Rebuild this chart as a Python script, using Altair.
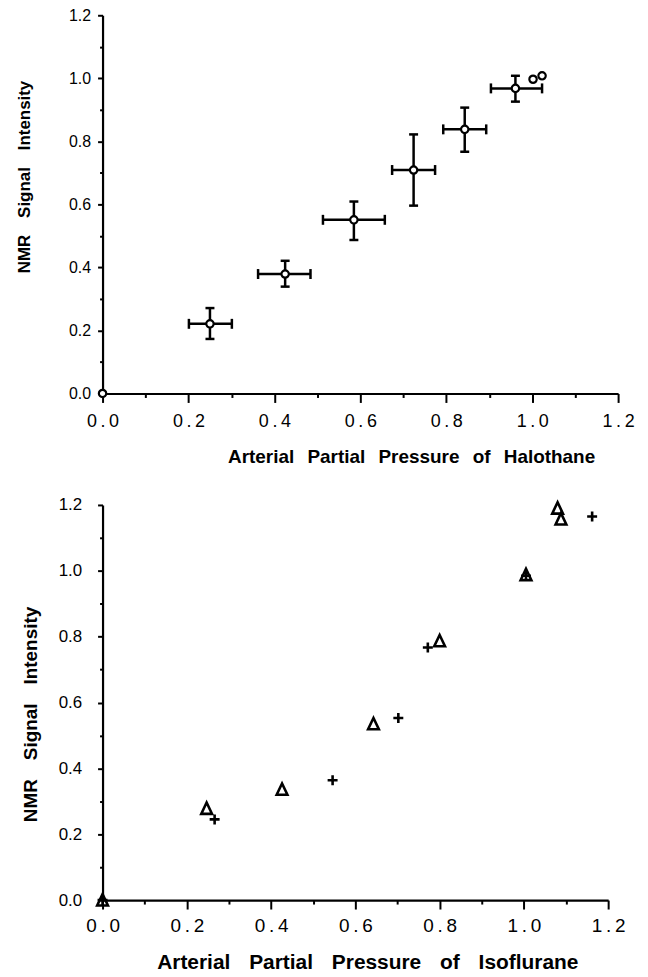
import altair as alt
import pandas as pd

# ---------------- data ----------------
# Halothane: open circles
hal_x = [0.0, 0.250, 0.425, 0.585, 0.724, 0.843, 0.961, 1.002, 1.023]
hal_y = [0.0, 0.221, 0.379, 0.551, 0.709, 0.838, 0.968, 0.997, 1.008]

# Halothane error bars (points that carry them)
err_x = [0.250, 0.425, 0.585, 0.724, 0.843, 0.961]
err_y = [0.221, 0.379, 0.551, 0.709, 0.838, 0.968]
err_xlo = [0.201, 0.362, 0.513, 0.674, 0.793, 0.904]
err_xhi = [0.301, 0.484, 0.657, 0.774, 0.893, 1.023]
err_ylo = [0.173, 0.339, 0.487, 0.596, 0.767, 0.926]
err_yhi = [0.271, 0.421, 0.609, 0.822, 0.907, 1.008]

# Isoflurane: triangles
tri_x = [0.0, 0.247, 0.426, 0.643, 0.800, 1.005, 1.080, 1.088]
tri_y = [0.0, 0.278, 0.336, 0.535, 0.787, 0.988, 1.190, 1.157]

# Isoflurane: plus signs
plus_x = [0.0, 0.266, 0.546, 0.702, 0.772, 1.005, 1.162]
plus_y = [0.0, 0.245, 0.364, 0.553, 0.767, 0.985, 1.165]

tick_values = [0.0, 0.1, 0.2, 0.3, 0.4, 0.5, 0.6, 0.7, 0.8, 0.9, 1.0, 1.1, 1.2]

G1 = "\u2002\u2009"
G2 = "\u2002\u2009\u2009"
TOP_X_TITLE = G1.join(["Arterial", "Partial", "Pressure", "of", "Halothane"])
BOT_X_TITLE = G2.join(["Arterial", "Partial", "Pressure", "of", "Isoflurane"])
Y_TITLE = "\u2003".join(["NMR", "Signal", "Intensity"])

FONT = "Liberation Sans"
MAJOR = "round(datum.value * 10) % 2 == 0"
XLABEL = MAJOR + " ? replace(format(datum.value, '.1f'), '.', '\u2009.\u2009') : ''"
YLABEL = MAJOR + " ? format(datum.value, '.1f') : ''"

hal_df = pd.DataFrame({"x": hal_x, "y": hal_y})
err_df = pd.DataFrame({"x": err_x, "y": err_y, "xlo": err_xlo, "xhi": err_xhi,
                       "ylo": err_ylo, "yhi": err_yhi})
tri_df = pd.DataFrame({"x": tri_x, "y": tri_y})
plus_df = pd.DataFrame({"x": plus_x, "y": plus_y})

dom = [0, 1.2]


def x_axis(title, title_x, title_size, label_size, title_y, pad):
    return alt.Axis(values=tick_values, labelExpr=XLABEL, title=title,
                    titleX=title_x, titleY=title_y,
                    titleAlign="center", titleBaseline="middle",
                    titleFontSize=title_size, labelFontSize=label_size,
                    tickSize={"condition": {"test": MAJOR, "value": 9}, "value": 4},
                    labelPadding=pad, labelFlush=False, labelOverlap=False)


def y_axis(title, title_x, title_y, title_size, label_size, pad):
    return alt.Axis(values=tick_values, labelExpr=YLABEL, title=title,
                    titleX=title_x, titleY=title_y, titleAngle=-90,
                    titleAlign="center", titleBaseline="middle",
                    titleFontSize=title_size, labelFontSize=label_size,
                    tickSize={"condition": {"test": MAJOR, "value": 5}, "value": 3},
                    labelPadding=pad, labelFlush=False, labelOverlap=False)


# ---------------- top panel: halothane ----------------
xs_top = alt.Scale(domain=dom, nice=False, zero=False)
ys_top = alt.Scale(domain=dom, nice=False, zero=False)
xa_top = x_axis(TOP_X_TITLE, 310, 19, 18, 63, 10)
ya_top = y_axis(Y_TITLE, -78, 162, 17, 16, 7)

top_base = alt.Chart(hal_df).mark_point(
    shape="circle", filled=True, fill="white", stroke="black", strokeWidth=2.2,
    size=55, opacity=1
).encode(
    x=alt.X("x:Q", scale=xs_top, axis=xa_top),
    y=alt.Y("y:Q", scale=ys_top, axis=ya_top),
)

hbar = alt.Chart(err_df).mark_rule(color="black", strokeWidth=2.5).encode(
    x=alt.X("xlo:Q", scale=xs_top, axis=xa_top), x2="xhi:Q",
    y=alt.Y("y:Q", scale=ys_top, axis=ya_top))
vbar = alt.Chart(err_df).mark_rule(color="black", strokeWidth=2.5).encode(
    x=alt.X("x:Q", scale=xs_top, axis=xa_top),
    y=alt.Y("ylo:Q", scale=ys_top, axis=ya_top), y2="yhi:Q")
cap_l = alt.Chart(err_df).mark_tick(orient="vertical", color="black", thickness=2.5,
                                    size=10, opacity=1).encode(
    x=alt.X("xlo:Q", scale=xs_top, axis=xa_top), y=alt.Y("y:Q", scale=ys_top, axis=ya_top))
cap_r = alt.Chart(err_df).mark_tick(orient="vertical", color="black", thickness=2.5,
                                    size=10, opacity=1).encode(
    x=alt.X("xhi:Q", scale=xs_top, axis=xa_top), y=alt.Y("y:Q", scale=ys_top, axis=ya_top))
cap_b = alt.Chart(err_df).mark_tick(orient="horizontal", color="black", thickness=2.5,
                                    size=9, opacity=1).encode(
    x=alt.X("x:Q", scale=xs_top, axis=xa_top), y=alt.Y("ylo:Q", scale=ys_top, axis=ya_top))
cap_t = alt.Chart(err_df).mark_tick(orient="horizontal", color="black", thickness=2.5,
                                    size=9, opacity=1).encode(
    x=alt.X("x:Q", scale=xs_top, axis=xa_top), y=alt.Y("yhi:Q", scale=ys_top, axis=ya_top))

top = alt.layer(hbar, vbar, cap_l, cap_r, cap_b, cap_t, top_base).properties(
    width=518, height=380)

# ---------------- bottom panel: isoflurane ----------------
xs_bot = alt.Scale(domain=dom, nice=False, zero=False)
ys_bot = alt.Scale(domain=dom, nice=False, zero=False)
xa_bot = x_axis(BOT_X_TITLE, 266, 21, 19, 63, 8)
ya_bot = y_axis(Y_TITLE, -72, 210, 19, 17, 16)

tri = alt.Chart(tri_df).mark_point(
    shape="M0,-1L-0.9,0.9L0.9,0.9Z", filled=False, stroke="black", strokeWidth=2.6,
    size=144, opacity=1
).encode(
    x=alt.X("x:Q", scale=xs_bot, axis=xa_bot),
    y=alt.Y("y:Q", scale=ys_bot, axis=ya_bot),
)
plus = alt.Chart(plus_df).mark_point(
    shape="M-1,0L1,0M0,-1L0,1", filled=False, stroke="black", strokeWidth=2.6,
    size=100, opacity=1
).encode(
    x=alt.X("x:Q", scale=xs_bot, axis=xa_bot),
    y=alt.Y("y:Q", scale=ys_bot, axis=ya_bot),
)

bottom = alt.layer(tri, plus).properties(width=508, height=397)

chart = alt.vconcat(top, bottom, spacing=30).properties(
    padding={"left": 8, "top": -3, "right": 5, "bottom": 5}
).configure_view(stroke=None).configure_axis(
    grid=False, domainColor="black", domainWidth=2.2, tickColor="black",
    tickWidth=2, labelColor="black", titleColor="black",
    labelFont=FONT, titleFont=FONT, titleFontWeight="bold",
)

chart.save("out.html", embed_options={"renderer": "svg", "actions": False})
